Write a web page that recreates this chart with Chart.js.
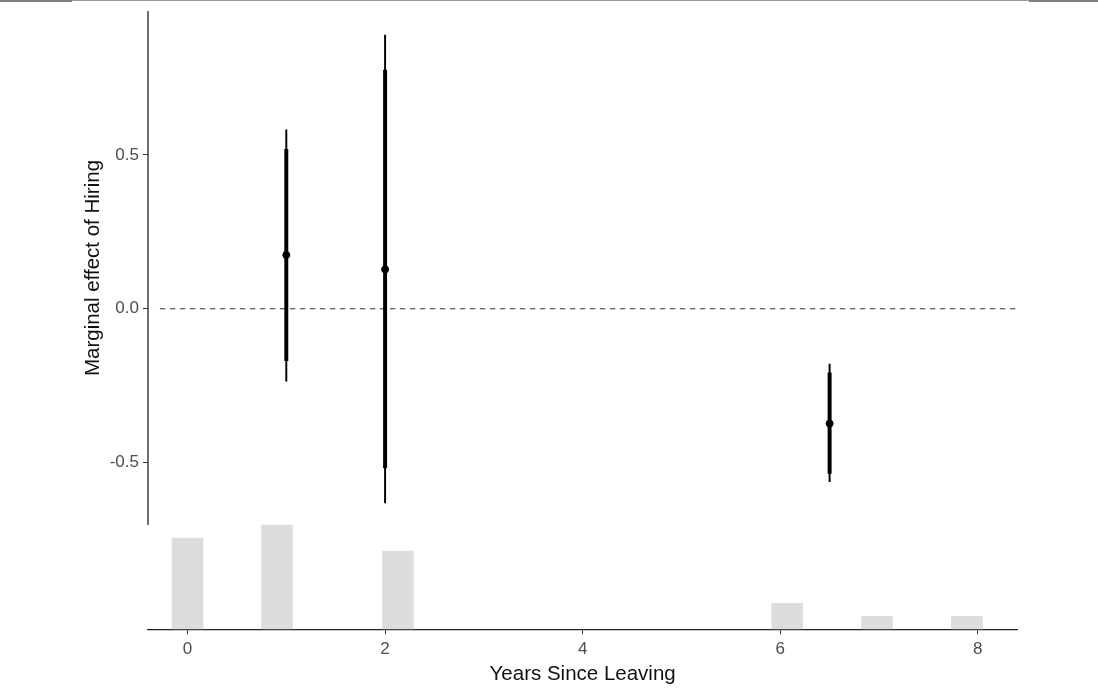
<!DOCTYPE html>
<html lang="en">
<head>
    <meta charset="UTF-8">
    <title>Marginal effect of Hiring</title>
    <script src="https://cdn.jsdelivr.net/npm/chart.js"></script>
    <style>
        body {
            margin: 0;
            background-color: #ffffff;
        }
        .wrap {
            position: relative;
            width: 1098px;
            height: 688px;
        }
        .top-rule {
            position: absolute;
            top: 0;
            left: 0;
            width: 1098px;
            height: 1px;
            background-color: #999999;
        }
        .top-rule-end {
            position: absolute;
            top: 0;
            height: 2px;
            background-color: #808080;
        }
    </style>
</head>
<body>
    <div class="wrap">
        <canvas id="meChart" width="1098" height="688"></canvas>
        <div class="top-rule"></div>
        <div class="top-rule-end" style="left:0;width:72px;"></div>
        <div class="top-rule-end" style="left:1029px;width:69px;"></div>
    </div>

    <script>
        // tick labels
        const xTicks = [0, 2, 4, 6, 8];
        const yTicks = [-0.5, 0, 0.5];

        // marginal effect estimates with 95% (thin) and 90% (thick) intervals
        const estX = [1, 2, 6.5];
        const estY = [0.175, 0.128, -0.373];
        const ci95Low = [-0.235, -0.631, -0.562];
        const ci95High = [0.582, 0.890, -0.180];
        const ci90Low = [-0.169, -0.517, -0.535];
        const ci90High = [0.518, 0.776, -0.208];

        // histogram of the moderator (counts)
        const histX = [0, 0.906, 2.13, 6.07, 6.98, 7.89];
        const histCount = [7, 8, 6, 2, 1, 1];

        const yAxisBottom = -0.703;
        const yTitle = 'Marginal effect of Hiring';

        const fontFamily = '"Liberation Sans", Arial, sans-serif';

        // y axis line only covers the estimate panel, title centred on it
        const yAxisLine = {
            id: 'yAxisLine',
            afterDraw(chart) {
                const {ctx, chartArea, scales} = chart;
                const yEnd = scales.y.getPixelForValue(yAxisBottom);
                ctx.save();
                ctx.strokeStyle = '#222';
                ctx.lineWidth = 1.3;
                ctx.beginPath();
                ctx.moveTo(chartArea.left, chartArea.top);
                ctx.lineTo(chartArea.left, yEnd);
                ctx.stroke();

                ctx.translate(93.5, (chartArea.top + yEnd) / 2);
                ctx.rotate(-Math.PI / 2);
                ctx.fillStyle = '#111';
                ctx.font = '20.5px ' + fontFamily;
                ctx.textAlign = 'center';
                ctx.textBaseline = 'middle';
                ctx.fillText(yTitle, 0, 0);
                ctx.restore();
            }
        };

        new Chart(document.getElementById('meChart'), {
            data: {
                datasets: [
                    {
                        type: 'scatter',
                        data: estX.map((x, i) => ({x: x, y: estY[i]})),
                        backgroundColor: '#000',
                        borderColor: '#000',
                        pointRadius: 3.5,
                        order: 0
                    },
                    {
                        type: 'bar',
                        data: estX.map((x, i) => ({x: x, y: [ci90Low[i], ci90High[i]]})),
                        backgroundColor: '#000',
                        barThickness: 3.3,
                        grouped: false,
                        order: 1
                    },
                    {
                        type: 'bar',
                        data: estX.map((x, i) => ({x: x, y: [ci95Low[i], ci95High[i]]})),
                        backgroundColor: '#000',
                        barThickness: 1.3,
                        grouped: false,
                        order: 2
                    },
                    {
                        type: 'line',
                        data: [{x: -0.28, y: 0}, {x: 8.4, y: 0}],
                        borderColor: '#333',
                        borderWidth: 1,
                        borderDash: [5.5, 4.5],
                        pointRadius: 0,
                        order: 3
                    },
                    {
                        type: 'bar',
                        yAxisID: 'yh',
                        data: histX.map((x, i) => ({x: x, y: [0, histCount[i]]})),
                        backgroundColor: '#dddddd',
                        barThickness: 31,
                        grouped: false,
                        order: 4
                    }
                ]
            },
            options: {
                responsive: false,
                animation: false,
                layout: {
                    padding: {top: 11, right: 80.7, left: 0, bottom: 0}
                },
                plugins: {
                    legend: {display: false},
                    tooltip: {enabled: false}
                },
                scales: {
                    x: {
                        type: 'linear',
                        min: -0.4,
                        max: 8.4,
                        offset: false,
                        afterBuildTicks: (scale) => {
                            scale.ticks = xTicks.map(v => ({value: v}));
                        },
                        afterFit: (scale) => {
                            scale.height = 58.7;
                            scale.paddingLeft = 0;
                            scale.paddingRight = 0;
                        },
                        border: {display: true, color: '#222', width: 1.3},
                        grid: {offset: false, drawOnChartArea: false, drawTicks: true, tickLength: 5, color: '#333'},
                        ticks: {
                            color: '#4d4d4d',
                            padding: 5,
                            font: {family: fontFamily, size: 17}
                        },
                        title: {
                            display: true,
                            text: 'Years Since Leaving',
                            color: '#111',
                            padding: {top: 0, bottom: 1},
                            font: {family: fontFamily, size: 20.5}
                        }
                    },
                    y: {
                        type: 'linear',
                        min: -1.042,
                        max: 0.968,
                        afterBuildTicks: (scale) => {
                            scale.ticks = yTicks.map(v => ({value: v}));
                        },
                        afterFit: (scale) => {
                            scale.width = 148;
                            scale.paddingTop = 0;
                            scale.paddingBottom = 0;
                        },
                        border: {display: false},
                        grid: {drawOnChartArea: false, drawTicks: true, tickLength: 5, color: '#333'},
                        ticks: {
                            color: '#4d4d4d',
                            padding: 4,
                            font: {family: fontFamily, size: 17},
                            callback: (v) => v.toFixed(1)
                        }
                    },
                    yh: {
                        type: 'linear',
                        display: false,
                        min: 0,
                        max: 47.5
                    }
                }
            },
            plugins: [yAxisLine]
        });
    </script>
</body>
</html>
